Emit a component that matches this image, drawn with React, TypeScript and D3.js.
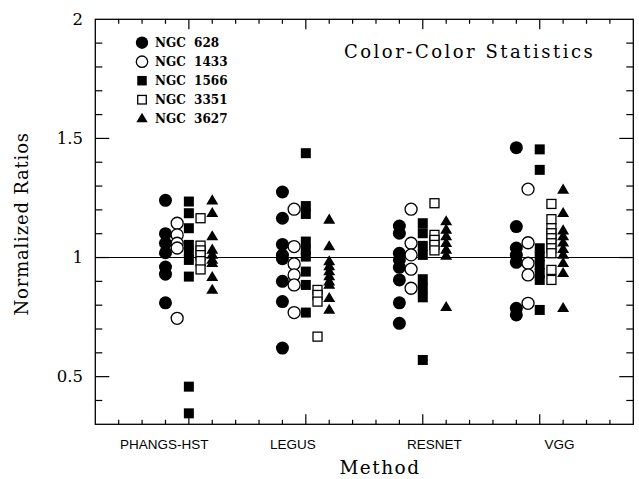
import React from "react";
import * as d3 from "d3";

const methods = ["PHANGS-HST", "LEGUS", "RESNET", "VGG"];
const methodLabelPos = [0.79, 1.89, 3.1, 4.17];
const galaxies = ["NGC  628", "NGC  1433", "NGC  1566", "NGC  3351", "NGC  3627"];
const yTicks = [0.5, 1, 1.5, 2];
const yTickLabels = ["0.5", "1", "1.5", "2"];

// values per method for each galaxy
const ngc628 = [
  [1.24, 1.10, 1.06, 1.02, 0.96, 0.93, 0.81],
  [1.275, 1.165, 1.055, 1.01, 0.995, 0.90, 0.815, 0.62],
  [1.132, 1.102, 1.018, 0.99, 0.959, 0.906, 0.81, 0.724],
  [1.461, 1.13, 1.04, 1.01, 0.98, 0.787, 0.759],
];
const ngc1433 = [
  [1.144, 1.095, 1.06, 1.04, 0.745],
  [1.203, 1.046, 0.973, 0.927, 0.885, 0.769],
  [1.203, 1.06, 1.011, 0.951, 0.871],
  [1.287, 1.062, 0.976, 0.927, 0.808],
];
const ngc1566 = [
  [1.235, 1.186, 1.123, 1.053, 1.025, 0.99, 0.92, 0.458, 0.346],
  [1.438, 1.216, 1.183, 1.067, 1.032, 1.004, 0.941, 0.885, 0.769],
  [1.144, 1.102, 1.049, 1.011, 0.909, 0.871, 0.833, 0.57],
  [1.454, 1.368, 1.039, 1.004, 0.969, 0.934, 0.906, 0.78],
];
const ngc3351 = [
  [1.165, 1.05, 1.03, 1.01, 0.985, 0.95],
  [0.864, 0.843, 0.815, 0.668],
  [1.228, 1.095, 1.074, 1.053, 1.03],
  [1.225, 1.161, 1.123, 1.102, 1.081, 1.06, 1.039, 1.018, 0.948, 0.906],
];
const ngc3627 = [
  [1.239, 1.186, 1.088, 1.032, 1.011, 0.99, 0.976, 0.917, 0.864],
  [1.158, 1.046, 0.983, 0.962, 0.941, 0.92, 0.899, 0.885, 0.829, 0.78],
  [1.151, 1.116, 1.088, 1.06, 1.032, 1.007, 0.791],
  [1.284, 1.186, 1.113, 1.088, 1.062, 1.035, 1.011, 0.976, 0.934, 0.787],
];
const seriesValues = [ngc628, ngc1433, ngc1566, ngc3351, ngc3627];
const seriesOffsets = [-0.2, -0.1, 0, 0.1, 0.2];

const W = 639, H = 479;
const left = 95.3, right = 633.3, top = 19.3, bottom = 424.3;
const x = d3.scaleLinear().domain([0.2, 4.8]).range([left, right]);
const y = d3.scaleLinear().domain([0.3, 2]).range([bottom, top]);

function Marker({ kind, cx, cy, s = 1 }: { kind: number; cx: number; cy: number; s?: number }) {
  if (kind === 0) return <circle cx={cx} cy={cy} r={6.5 * s} fill="#000" />;
  if (kind === 1) return <circle cx={cx} cy={cy} r={6 * s} fill="#fff" stroke="#000" strokeWidth={1.3} />;
  if (kind === 2) { const h = 5 * s; return <rect x={cx - h} y={cy - h} width={2 * h} height={2 * h} fill="#000" />; }
  if (kind === 3) { const h = 4.5 * s; return <rect x={cx - h} y={cy - h} width={2 * h} height={2 * h} fill="#fff" stroke="#000" strokeWidth={1.3} />; }
  const a = 6.3 * s;
  const p = `M${cx},${cy - a} L${cx + a * 0.95},${cy + a * 0.6} L${cx - a * 0.95},${cy + a * 0.6} Z`;
  return <path d={p} fill="#000" />;
}

export default function App() {
  const xMinor = d3.range(0.4, 4.8, 0.2).map((v) => +v.toFixed(2));
  const yMinor = d3.range(0.4, 2.0, 0.1).map((v) => +v.toFixed(2));
  const isMajorX = (v: number) => Math.abs(v - Math.round(v)) < 1e-6;
  const isMajorY = (v: number) => Math.abs(v * 2 - Math.round(v * 2)) < 1e-6;
  return (
    <svg width={W} height={H} style={{ position: "absolute", left: 0, top: 0, background: "#fff" }}>
      <rect x={0} y={0} width={W} height={H} fill="#fff" />
      {/* ticks */}
      {xMinor.map((v, i) => {
        const L = isMajorX(v) ? 10 : 4.5;
        return (
          <g key={"xt" + i} stroke="#000" strokeWidth={1.2}>
            <line x1={x(v)} x2={x(v)} y1={bottom} y2={bottom - L} />
            <line x1={x(v)} x2={x(v)} y1={top} y2={top + L} />
          </g>
        );
      })}
      {yMinor.map((v, i) => {
        const L = isMajorY(v) ? 14 : 7;
        return (
          <g key={"yt" + i} stroke="#000" strokeWidth={1.2}>
            <line x1={left} x2={left + L} y1={y(v)} y2={y(v)} />
            <line x1={right} x2={right - L} y1={y(v)} y2={y(v)} />
          </g>
        );
      })}
      <rect x={left} y={top} width={right - left} height={bottom - top} fill="none" stroke="#000" strokeWidth={1.3} />
      <line x1={left} x2={right} y1={y(1)} y2={y(1)} stroke="#000" strokeWidth={1.1} />
      {/* y tick labels */}
      {yTicks.map((v, i) => (
        <text key={"yl" + i} x={83} y={y(v)} dy="0.35em" textAnchor="end" fontFamily="DejaVu Serif" fontSize={16.5}>
          {yTickLabels[i]}
        </text>
      ))}
      {methods.map((m, i) => (
        <text key={"xl" + i} x={x(methodLabelPos[i])} y={449} textAnchor="middle" fontFamily="Liberation Sans, Arial" fontSize={13.5}>
          {m}
        </text>
      ))}
      <text x={380} y={474} textAnchor="middle" fontFamily="DejaVu Serif" fontSize={18.5} letterSpacing={1.5}>
        Method
      </text>
      <text transform={`translate(28,${(top + bottom) / 2 + 2}) rotate(-90)`} textAnchor="middle" fontFamily="DejaVu Serif" fontSize={18} letterSpacing={0.8}>
        Normalized Ratios
      </text>
      <text x={344} y={58} fontFamily="DejaVu Serif" fontSize={18} letterSpacing={2.5}>
        Color-Color Statistics
      </text>
      {/* points */}
      {seriesValues.map((ser, k) => (
        <g key={"s" + k}>
          {ser.map((vals, mi) =>
            vals.map((v, j) => <Marker key={mi + "-" + j} kind={k} cx={x(mi + 1 + seriesOffsets[k])} cy={y(v)} />)
          )}
        </g>
      ))}
      {/* legend */}
      {galaxies.map((g, i) => (
        <g key={"lg" + i}>
          <Marker kind={i} cx={142} cy={42.7 + 19 * i} s={0.95} />
          <text x={155} y={42.7 + 19 * i} dy="0.35em" fontFamily="DejaVu Serif" fontWeight="bold" fontSize={12} style={{ whiteSpace: "pre" }}>
            {g}
          </text>
        </g>
      ))}
    </svg>
  );
}
